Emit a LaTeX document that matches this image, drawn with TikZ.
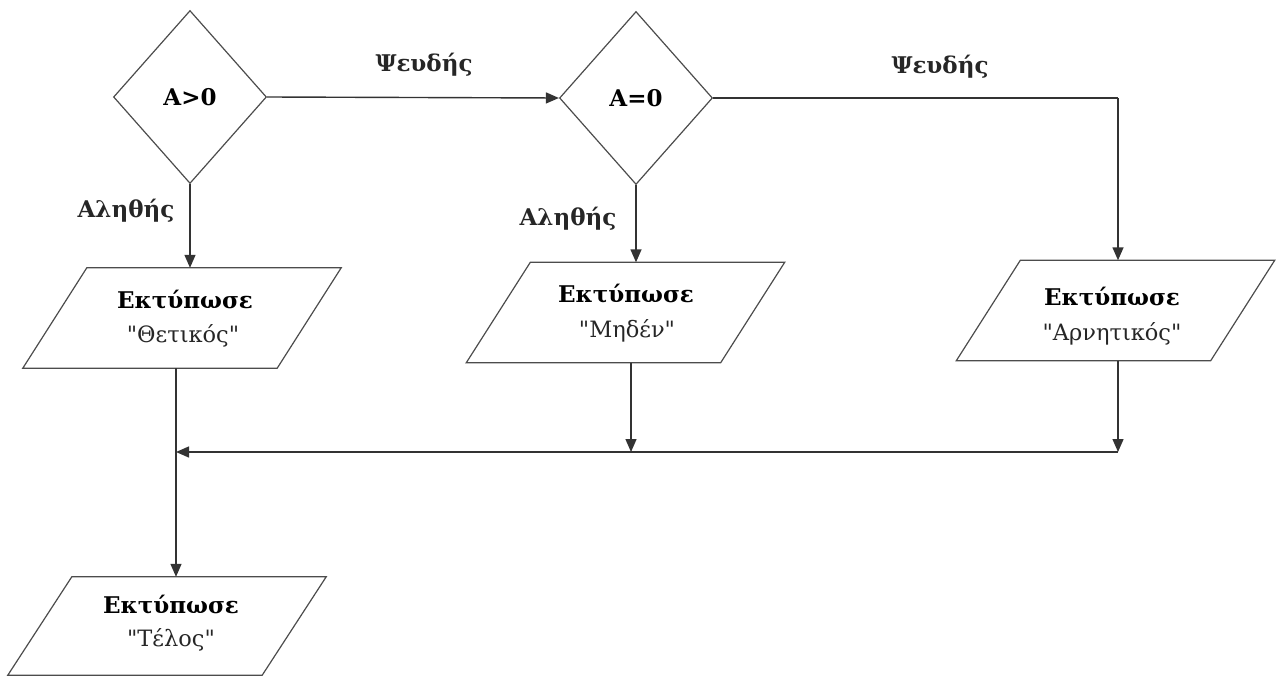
\documentclass[tikz,border=0pt]{standalone}
\usepackage{fontspec}
\setmainfont{DejaVu Serif}[Ligatures=TeXOff]
\usetikzlibrary{shapes.geometric,arrows.meta}
\newcommand\paragram[1]{\draw[paral] ([xshift=32pt]#1.north west) -- ([xshift=32pt]#1.north east) -- ([xshift=-32pt]#1.south east) -- ([xshift=-32pt]#1.south west) -- cycle;}
\begin{document}
\begin{tikzpicture}[x=1pt,y=-1pt,
  line/.style={draw=black!80, line width=1.4pt},
  arr/.style={line, -{Triangle[length=13pt,width=11pt]}},
  dec/.style={diamond, draw=black!70, line width=1.2pt, inner sep=0pt,
    minimum width=153pt, minimum height=173pt, font=\fontsize{23}{25}\selectfont\bfseries},
  io/.style={rectangle, inner sep=0pt, minimum width=254pt, minimum height=100pt},
  paral/.style={draw=black!70, line width=1.2pt},
  lbl/.style={anchor=base, inner sep=0pt, font=\fontsize{23}{25}\selectfont\bfseries, text=black!85},
  hd/.style={anchor=base, inner sep=0pt, font=\fontsize{23}{25}\selectfont\bfseries},
  qt/.style={anchor=base, inner sep=0pt, font=\fontsize{22.5}{24}\selectfont, text=black!85}
]
\useasboundingbox (0,0) rectangle (1276,679);
\node[dec] (d1) at (190,97) {A>0};
\node[dec] (d2) at (636,98) {A=0};
\node[io] (p1) at (182,318) {};
\node[io] (p2) at (625.5,312.5) {};
\node[io] (p3) at (1115.5,310.5) {};
\node[io, minimum height=98pt] (p4) at (167,626) {};
\paragram{p1}
\paragram{p2}
\paragram{p3}
\paragram{p4}
\node[hd] (t1) at (185,308) {Εκτύπωσε};
\node[qt] (q1) at (183,342) {"Θετικός"};
\node[hd] (t2) at (626,302) {Εκτύπωσε};
\node[qt] (q2) at (627,337) {"Μηδέν"};
\node[hd] (t3) at (1112,305) {Εκτύπωσε};
\node[qt] (q3) at (1112,340) {"Αρνητικός"};
\node[hd] (t4) at (171,613) {Εκτύπωσε};
\node[qt] (q4) at (171,646) {"Τέλος"};
\node[lbl] (f1) at (424,72) {Ψευδής};
\node[lbl] (f2) at (940,74) {Ψευδής};
\node[lbl] (a1) at (126,217) {Αληθής};
\node[lbl] (a2) at (568,225) {Αληθής};
\coordinate (j) at (176,452);
\coordinate (m2) at (631,452);
\coordinate (m3) at (1118,452);
\coordinate (r3) at (1118,98);
\draw[arr] (d1.south) -- (d1.south |- p1.north);
\draw[arr] (d1.east) -- (d2.west);
\draw[arr] (d2.south) -- (d2.south |- p2.north);
\draw[line] (d2.east) -- (r3);
\draw[arr] (r3) -- (r3 |- p3.north);
\draw[arr] (m2 |- p2.south) -- (m2);
\draw[arr] (m3 |- p3.south) -- (m3);
\draw[arr] (m3) -- (j);
\draw[arr] (j |- p1.south) -- (j |- p4.north);
\end{tikzpicture}
\end{document}
